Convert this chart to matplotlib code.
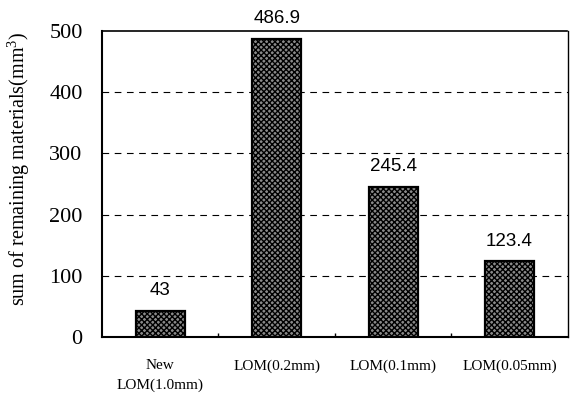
import matplotlib.pyplot as plt
from matplotlib.ticker import FixedLocator

categories = ["New\nLOM(1.0mm)", "LOM(0.2mm)", "LOM(0.1mm)", "LOM(0.05mm)"]
values = [43, 486.9, 245.4, 123.4]
value_labels = ["43", "486.9", "245.4", "123.4"]
y_ticks = [0, 100, 200, 300, 400, 500]

plt.rcParams["hatch.linewidth"] = 1.0
plt.rcParams["mathtext.fontset"] = "custom"
plt.rcParams["mathtext.rm"] = "Liberation Serif"

fig = plt.figure(figsize=(5.7, 3.96), dpi=100)
ax = fig.add_axes([0.179, 0.149, 0.817, 0.773])

x = list(range(len(categories)))
ax.bar(x, values, width=0.42, color="#8a8a8a", edgecolor="black",
       linewidth=1.6, hatch="xxxxxx", zorder=3)

for xi, v, lab in zip(x, values, value_labels):
    ax.text(xi, v + 19, lab, ha="center", va="bottom",
            family="Liberation Sans", fontsize=13.5)

ax.set_xlim(-0.5, 3.5)
ax.set_ylim(0, 500)
ax.set_yticks(y_ticks)
ax.set_yticklabels([str(t) for t in y_ticks], family="Liberation Serif", fontsize=16)
ax.set_xticks(x)
ax.set_xticklabels(categories, family="Liberation Serif", fontsize=11, linespacing=1.6)
ax.tick_params(axis="x", length=0, pad=16)
ax.tick_params(axis="y", length=0, pad=14)
ax.xaxis.set_minor_locator(FixedLocator([0.5, 1.5, 2.5]))
ax.tick_params(axis="x", which="minor", direction="in", length=3, width=1)

ax.set_ylabel(r"sum of remaining materials(mm$\mathrm{^3}$)", family="Liberation Serif",
              fontsize=14.5)
ax.yaxis.set_label_coords(-0.15, 0.55)

for t in [100, 200, 300, 400]:
    ax.axhline(t, color="black", linestyle=(0, (6, 5)), linewidth=0.8, zorder=1)

ax.spines["left"].set_linewidth(1.5)
ax.spines["bottom"].set_linewidth(1.5)
ax.spines["top"].set_linestyle((0, (1, 1)))
ax.spines["top"].set_linewidth(1.2)
ax.spines["right"].set_linestyle((0, (1, 1)))
ax.spines["right"].set_linewidth(1.0)

fig.savefig("out.png", dpi=100, facecolor="white")
